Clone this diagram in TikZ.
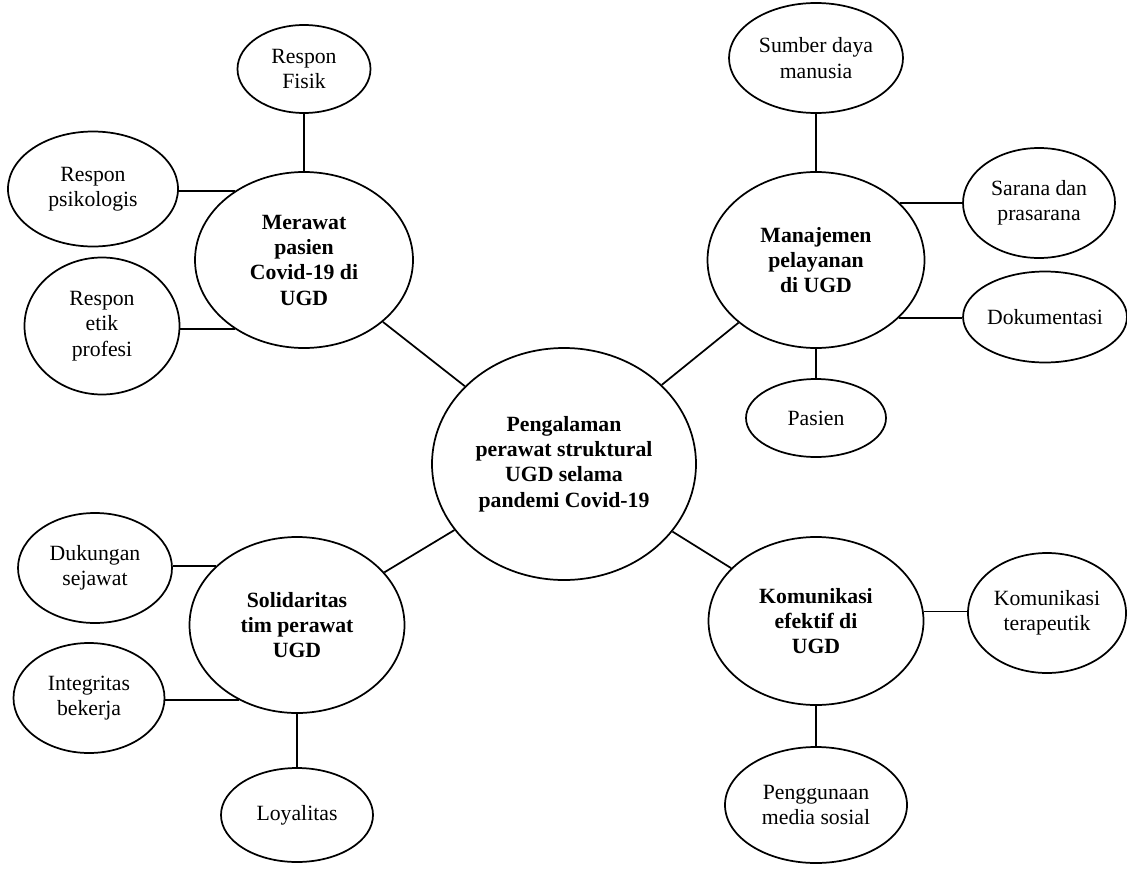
\documentclass[tikz,border=0pt]{standalone}
\usepackage{fontspec}
\setmainfont{Liberation Serif}
\usetikzlibrary{shapes.geometric}

\tikzset{every picture/.style={line width=0.75pt}}
\tikzset{
  bubble/.style 2 args={draw, ellipse, line width=1.3pt, inner sep=0pt, align=center,
    minimum width=#1*0.75pt, minimum height=#2*0.75pt, font=\fontsize{16.3}{19}\selectfont},
  mainbubble/.style 2 args={bubble={#1}{#2}, font=\fontsize{16.3}{19}\selectfont\bfseries},
  link/.style={line width=1.3pt}
}

\begin{document}
\begin{tikzpicture}[x=0.75pt,y=0.75pt,yscale=-1,xscale=1]
\useasboundingbox (0,0) rectangle (1127,874);

%Shape: Ellipse [centre]
\node [mainbubble={264}{232}] (cen) at (564,464) {Pengalaman\\perawat struktural\\UGD selama\\pandemi Covid-19};
%Shape: Ellipse [theme 1]
\node [mainbubble={218}{176}] (mer) at (304,260) {Merawat\\pasien\\Covid-19 di\\UGD};
%Shape: Ellipse [theme 2]
\node [mainbubble={217}{176}] (man) at (816,260) {Manajemen\\pelayanan\\di UGD};
%Shape: Ellipse [theme 3]
\node [mainbubble={215}{176}] (sol) at (297,625) {Solidaritas\\tim perawat\\UGD};
%Shape: Ellipse [theme 4]
\node [mainbubble={215}{168}] (kom) at (816,621) {Komunikasi\\efektif di\\UGD};

%Shape: Ellipse [sub themes 1]
\node [bubble={133}{88}] (fis) at (304,69) {Respon\\Fisik};
\node [bubble={170}{115}] (psi) at (93,189) {Respon\\psikologis};
\node [bubble={155}{137}] (etk) at (102,326) {Respon\\etik\\profesi};
%Shape: Ellipse [sub themes 2]
\node [bubble={174}{110}] (sdm) at (816,58) {Sumber daya\\manusia};
\node [bubble={152}{110}] (sar) at (1039,203) {Sarana dan\\prasarana};
\node [bubble={162}{91}] (dok) at (1045,317) {Dokumentasi};
\node [bubble={140}{78}] (pas) at (816,418) {Pasien};
%Shape: Ellipse [sub themes 3]
\node [bubble={154}{110}] (duk) at (95,568) {Dukungan\\sejawat};
\node [bubble={151}{110}] (itg) at (89,698) {Integritas\\bekerja};
\node [bubble={152}{94}] (loy) at (297,815) {Loyalitas};
%Shape: Ellipse [sub themes 4]
\node [bubble={158}{120}] (ter) at (1047,613) {Komunikasi\\terapeutik};
\node [bubble={182}{116}] (med) at (816,805) {Penggunaan\\media sosial};

%Straight Lines [centre to themes]
\draw [link] (mer) -- (cen);
\draw [link] (man) -- (cen);
\draw [link] (sol) -- (cen);
\draw [link] (kom) -- (cen);
%Straight Lines [theme 1]
\draw [link] (mer.north) -- (fis.south);
\draw [link] (mer.135) -- (mer.135 -| psi.east);
\draw [link] (mer.225) -- (mer.225 -| etk.east);
%Straight Lines [theme 2]
\draw [link] (man.north) -- (sdm.south);
\draw [link] (man.34.5) -- (man.34.5 -| sar.west);
\draw [link] (man.325.5) -- (man.325.5 -| dok.west);
\draw [link] (man.south) -- (pas.north);
%Straight Lines [theme 3]
\draw [link] (sol.144) -- (sol.144 -| duk.east);
\draw [link] (sol.232) -- (sol.232 -| itg.east);
\draw [link] (sol.south) -- (loy.north);
%Straight Lines [theme 4]
\draw [link] (kom.5) -- (kom.5 -| ter.west);
\draw [link] (kom.south) -- (med.north);
\end{tikzpicture}
\end{document}
